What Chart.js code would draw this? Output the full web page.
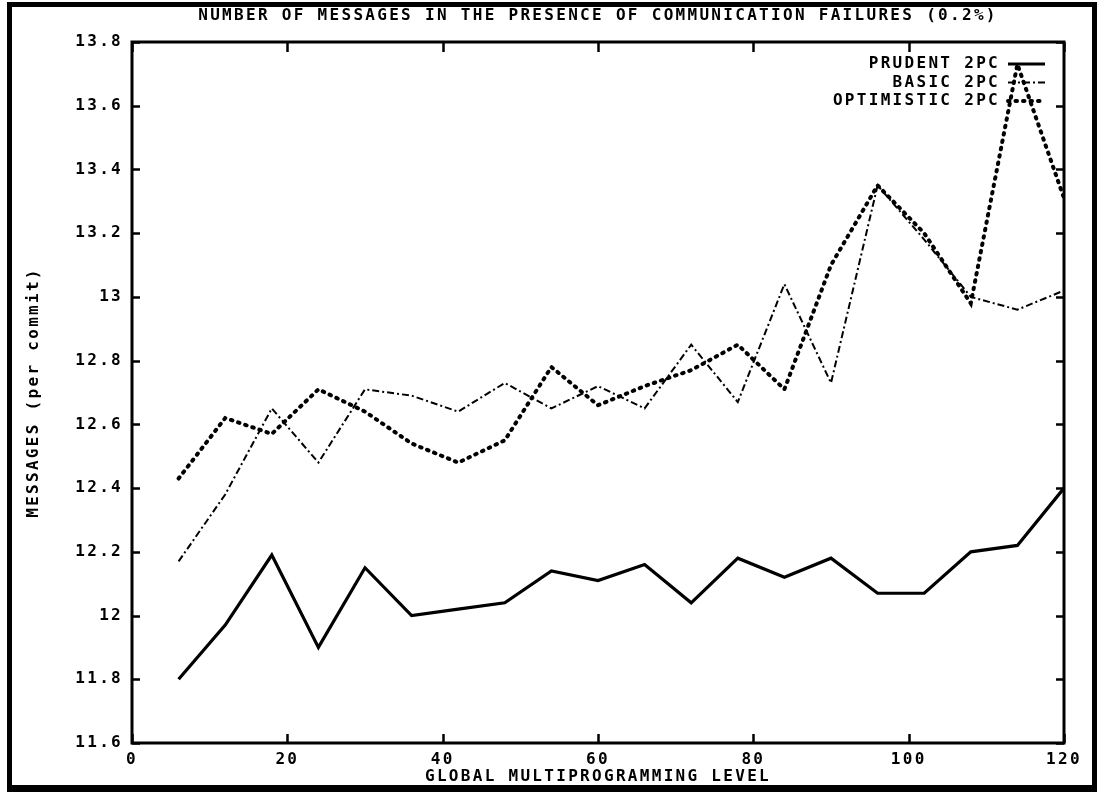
<!DOCTYPE html>
<html>
<head>
<meta charset="utf-8">
<script src="https://cdn.jsdelivr.net/npm/chart.js@4.4.1/dist/chart.umd.min.js"></script>
<style>
  html, body { margin: 0; padding: 0; background: #fff; }
  #wrap { position: relative; width: 1098px; height: 792px; overflow: hidden; }
  #c { position: absolute; left: 0; top: 0; }
  #frame { position: absolute; left: 7px; top: 2px; width: 1080px; height: 778px;
           border: 5px solid #000; border-bottom-width: 7px; pointer-events: none; }
</style>
</head>
<body>
<div id="wrap">
  <canvas id="c" width="1098" height="792"></canvas>
  <div id="frame"></div>
</div>
<script>
// Global multiprogramming level (x values of every series)
const levels = [6, 12, 18, 24, 30, 36, 42, 48, 54, 60, 66, 72, 78, 84, 90, 96, 102, 108, 114, 120];

// Messages per commit
const prudent    = [11.80, 11.97, 12.19, 11.90, 12.15, 12.00, 12.02, 12.04, 12.14, 12.11,
                    12.16, 12.04, 12.18, 12.12, 12.18, 12.07, 12.07, 12.20, 12.22, 12.40];
const basic      = [12.17, 12.38, 12.65, 12.48, 12.71, 12.69, 12.64, 12.73, 12.65, 12.72,
                    12.65, 12.85, 12.67, 13.04, 12.73, 13.35, 13.18, 13.00, 12.96, 13.02];
const optimistic = [12.43, 12.62, 12.57, 12.71, 12.64, 12.54, 12.48, 12.55, 12.78, 12.66,
                    12.72, 12.77, 12.85, 12.71, 13.10, 13.35, 13.20, 12.98, 13.73, 13.31];

const xTicks = [0, 20, 40, 60, 80, 100, 120];
const yTicks = [11.6, 11.8, 12.0, 12.2, 12.4, 12.6, 12.8, 13.0, 13.2, 13.4, 13.6, 13.8];

const seriesNames = ['PRUDENT 2PC', 'BASIC 2PC', 'OPTIMISTIC 2PC'];

const FONT = { family: '"DejaVu Sans Mono", "Liberation Mono", monospace', size: 16, weight: 'bold' };
const SPACING = '2.3px';

const toPoints = (ys) => ys.map((y, i) => ({ x: levels[i], y }));

// Wide plotter-style lettering for every piece of text on the canvas
const letterSpacingPlugin = {
  id: 'letterSpacing',
  beforeLayout(chart) { chart.ctx.letterSpacing = SPACING; },
  beforeDraw(chart) { chart.ctx.letterSpacing = SPACING; }
};

// Plot frame with inward tick marks on all four sides
const framePlugin = {
  id: 'frameTicks',
  afterDatasetsDraw(chart) {
    const { ctx, chartArea: a, scales } = chart;
    ctx.save();
    ctx.strokeStyle = '#000';
    ctx.lineWidth = 3;
    ctx.strokeRect(a.left, a.top, a.right - a.left, a.bottom - a.top);
    ctx.lineWidth = 2.5;
    ctx.beginPath();
    scales.y.ticks.forEach(t => {
      const py = Math.round(scales.y.getPixelForValue(t.value)) + 0.5;
      ctx.moveTo(a.left, py);  ctx.lineTo(a.left + 8, py);
      ctx.moveTo(a.right, py); ctx.lineTo(a.right - 8, py);
    });
    scales.x.ticks.forEach(t => {
      const px = Math.round(scales.x.getPixelForValue(t.value)) + 0.5;
      ctx.moveTo(px, a.top);    ctx.lineTo(px, a.top + 10);
      ctx.moveTo(px, a.bottom); ctx.lineTo(px, a.bottom - 9);
    });
    ctx.stroke();
    ctx.restore();
  }
};

// Key in the upper right corner: right-aligned names with a line sample after each
const keyPlugin = {
  id: 'cornerKey',
  afterDatasetsDraw(chart) {
    const { ctx, chartArea: a } = chart;
    ctx.save();
    ctx.letterSpacing = SPACING;
    ctx.font = `${FONT.weight} ${FONT.size}px ${FONT.family}`;
    ctx.textAlign = 'right';
    ctx.textBaseline = 'middle';
    ctx.fillStyle = '#000';
    chart.data.datasets.forEach((ds, i) => {
      const y = a.top + 22 + i * 18.5;
      ctx.fillText(ds.label, a.right - 64, y);
      ctx.beginPath();
      ctx.setLineDash(ds.borderDash || []);
      ctx.lineWidth = ds.borderWidth;
      ctx.lineCap = ds.borderCapStyle || 'butt';
      ctx.strokeStyle = ds.borderColor;
      ctx.moveTo(a.right - 56, y);
      ctx.lineTo(a.right - 19, y);
      ctx.stroke();
    });
    ctx.restore();
  }
};

new Chart(document.getElementById('c'), {
  type: 'line',
  data: {
    datasets: [
      { label: seriesNames[0], data: toPoints(prudent), borderColor: '#000', borderWidth: 3.2,
        borderDash: [], borderCapStyle: 'butt' },
      { label: seriesNames[1], data: toPoints(basic), borderColor: '#000', borderWidth: 2,
        borderDash: [7, 3, 2, 3], borderCapStyle: 'butt' },
      { label: seriesNames[2], data: toPoints(optimistic), borderColor: '#000', borderWidth: 4,
        borderDash: [1.5, 6], borderCapStyle: 'round' }
    ]
  },
  options: {
    responsive: false,
    animation: false,
    devicePixelRatio: 1,
    layout: { padding: { left: 0, right: 34, top: 0, bottom: 0 } },
    elements: { point: { radius: 0 }, line: { tension: 0, fill: false } },
    plugins: {
      legend: { display: false },
      tooltip: { enabled: false },
      title: {
        display: true,
        fullSize: false,
        text: 'NUMBER OF MESSAGES IN THE PRESENCE OF COMMUNICATION FAILURES (0.2%)',
        color: '#000',
        font: FONT,
        padding: { top: 6, bottom: 16.8 }
      }
    },
    scales: {
      x: {
        type: 'linear',
        position: 'bottom',
        min: 0, max: 120,
        afterBuildTicks: (s) => { s.ticks = xTicks.map(v => ({ value: v })); },
        afterFit: (s) => { s.height = 49; },
        grid: { display: false, drawTicks: false },
        border: { display: false },
        ticks: { color: '#000', font: FONT, padding: 7, maxRotation: 0, autoSkip: false,
                 callback: (v) => String(v) },
        title: { display: true, text: 'GLOBAL MULTIPROGRAMMING LEVEL', color: '#000', font: FONT,
                 padding: { top: 0, bottom: 6 } }
      },
      y: {
        type: 'linear',
        position: 'left',
        min: 11.6, max: 13.8,
        afterBuildTicks: (s) => { s.ticks = yTicks.map(v => ({ value: v })); },
        afterFit: (s) => { s.width = 132; },
        grid: { display: false, drawTicks: false },
        border: { display: false },
        ticks: { color: '#000', font: FONT, padding: 9, autoSkip: false,
                 callback: (v) => String(parseFloat(Number(v).toFixed(1))) },
        title: { display: true, text: 'MESSAGES (per commit)', color: '#000', font: FONT,
                 padding: { top: 24, bottom: 0 } }
      }
    }
  },
  plugins: [letterSpacingPlugin, framePlugin, keyPlugin]
});
</script>
</body>
</html>
